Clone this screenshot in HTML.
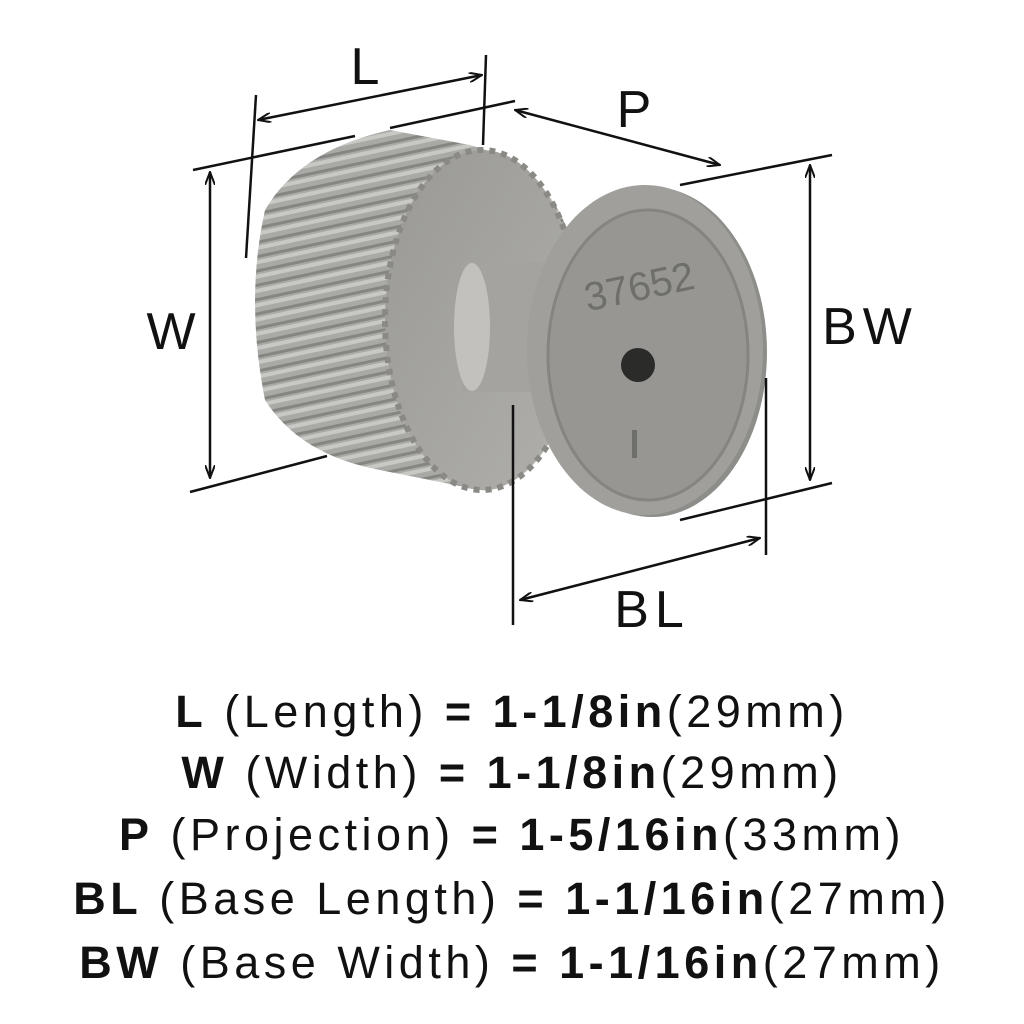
<!DOCTYPE html>
<html><head><meta charset="utf-8"><style>
html,body{margin:0;padding:0;background:#fff;}
body{width:1024px;height:1024px;position:relative;overflow:hidden;font-family:"Liberation Sans",sans-serif;color:#111;}
.t{position:absolute;left:0;width:1024px;text-align:center;font-size:45px;line-height:50px;letter-spacing:4.5px;}
b{font-weight:bold;}
</style></head><body>
<svg width="1024" height="640" style="position:absolute;left:0;top:0">
<defs>
<marker id="a" markerWidth="14" markerHeight="10" refX="13" refY="5" orient="auto-start-reverse" markerUnits="userSpaceOnUse">
<path d="M0,0 L13,5 L0,10" fill="none" stroke="#111" stroke-width="2"/></marker>
<linearGradient id="face" x1="0" y1="0" x2="1" y2="1">
<stop offset="0" stop-color="#9a9995"/><stop offset="1" stop-color="#b0afab"/></linearGradient>
<pattern id="rib" width="14" height="14" patternUnits="userSpaceOnUse" patternTransform="rotate(-12)">
<rect width="14" height="14" fill="#a9a9a5"/><rect y="0" width="14" height="4" fill="#c8c8c4"/><rect y="9" width="14" height="3" fill="#858581"/></pattern>
</defs>
<path d="M265,210 Q300,150 390,130 L470,145 Q560,170 575,260 L560,420 Q520,495 480,490 L380,470 Q300,455 265,400 Q245,300 265,210Z" fill="url(#rib)"/>
<ellipse cx="482" cy="320" rx="97" ry="170" fill="url(#face)" stroke="#8a8985" stroke-width="6" stroke-dasharray="6 6"/>
<rect x="462" y="262" width="85" height="130" fill="#a4a39f"/>
<ellipse cx="472" cy="327" rx="18" ry="64" fill="#c2c1bd"/>
<ellipse cx="652" cy="352" rx="115" ry="165" fill="#8d8d89"/>
<ellipse cx="645" cy="350" rx="118" ry="165" fill="#a09f9b"/>
<ellipse cx="648" cy="355" rx="100" ry="145" fill="#979692" stroke="#858480" stroke-width="3"/>
<circle cx="638" cy="365" r="17" fill="#2b2b2a"/>
<text x="640" y="300" font-family="Liberation Sans" font-size="40" fill="#6e6e6a" transform="rotate(-12 640 290)" text-anchor="middle">37652</text>
<rect x="632" y="430" width="5" height="28" fill="#6e6e6a"/>
<g stroke="#111" stroke-width="2.5" fill="none">
<line x1="258" y1="120" x2="482" y2="75" marker-start="url(#a)" marker-end="url(#a)"/>
<line x1="256" y1="95" x2="246" y2="258"/>
<line x1="486" y1="55" x2="483" y2="145"/>
<line x1="193" y1="170" x2="355" y2="136"/>
<line x1="390" y1="128" x2="515" y2="101"/>
<line x1="210" y1="172" x2="210" y2="478" marker-start="url(#a)" marker-end="url(#a)"/>
<line x1="190" y1="492" x2="327" y2="456"/>
<line x1="515" y1="110" x2="720" y2="165" marker-start="url(#a)" marker-end="url(#a)"/>
<line x1="680" y1="185" x2="832" y2="155"/>
<line x1="680" y1="520" x2="832" y2="483"/>
<line x1="810" y1="165" x2="810" y2="480" marker-start="url(#a)" marker-end="url(#a)"/>
<line x1="513" y1="405" x2="513" y2="625"/>
<line x1="766" y1="378" x2="766" y2="555"/>
<line x1="520" y1="600" x2="760" y2="538" marker-start="url(#a)" marker-end="url(#a)"/>
</g>
<g font-family="Liberation Sans" font-size="52" fill="#111" text-anchor="middle" letter-spacing="6">
<text x="368" y="84">L</text>
<text x="637" y="127">P</text>
<text x="174" y="349">W</text>
<text x="870" y="344">BW</text>
<text x="652" y="627">BL</text>
</g>
</svg>
<div class="t" style="top:687px"><b>L</b> (Length) <b>= 1-1/8in</b>(29mm)</div>
<div class="t" style="top:748px"><b>W</b> (Width) <b>= 1-1/8in</b>(29mm)</div>
<div class="t" style="top:810px"><b>P</b> (Projection) <b>= 1-5/16in</b>(33mm)</div>
<div class="t" style="top:874px"><b>BL</b> (Base Length) <b>= 1-1/16in</b>(27mm)</div>
<div class="t" style="top:938px"><b>BW</b> (Base Width) <b>= 1-1/16in</b>(27mm)</div>
</body></html>
